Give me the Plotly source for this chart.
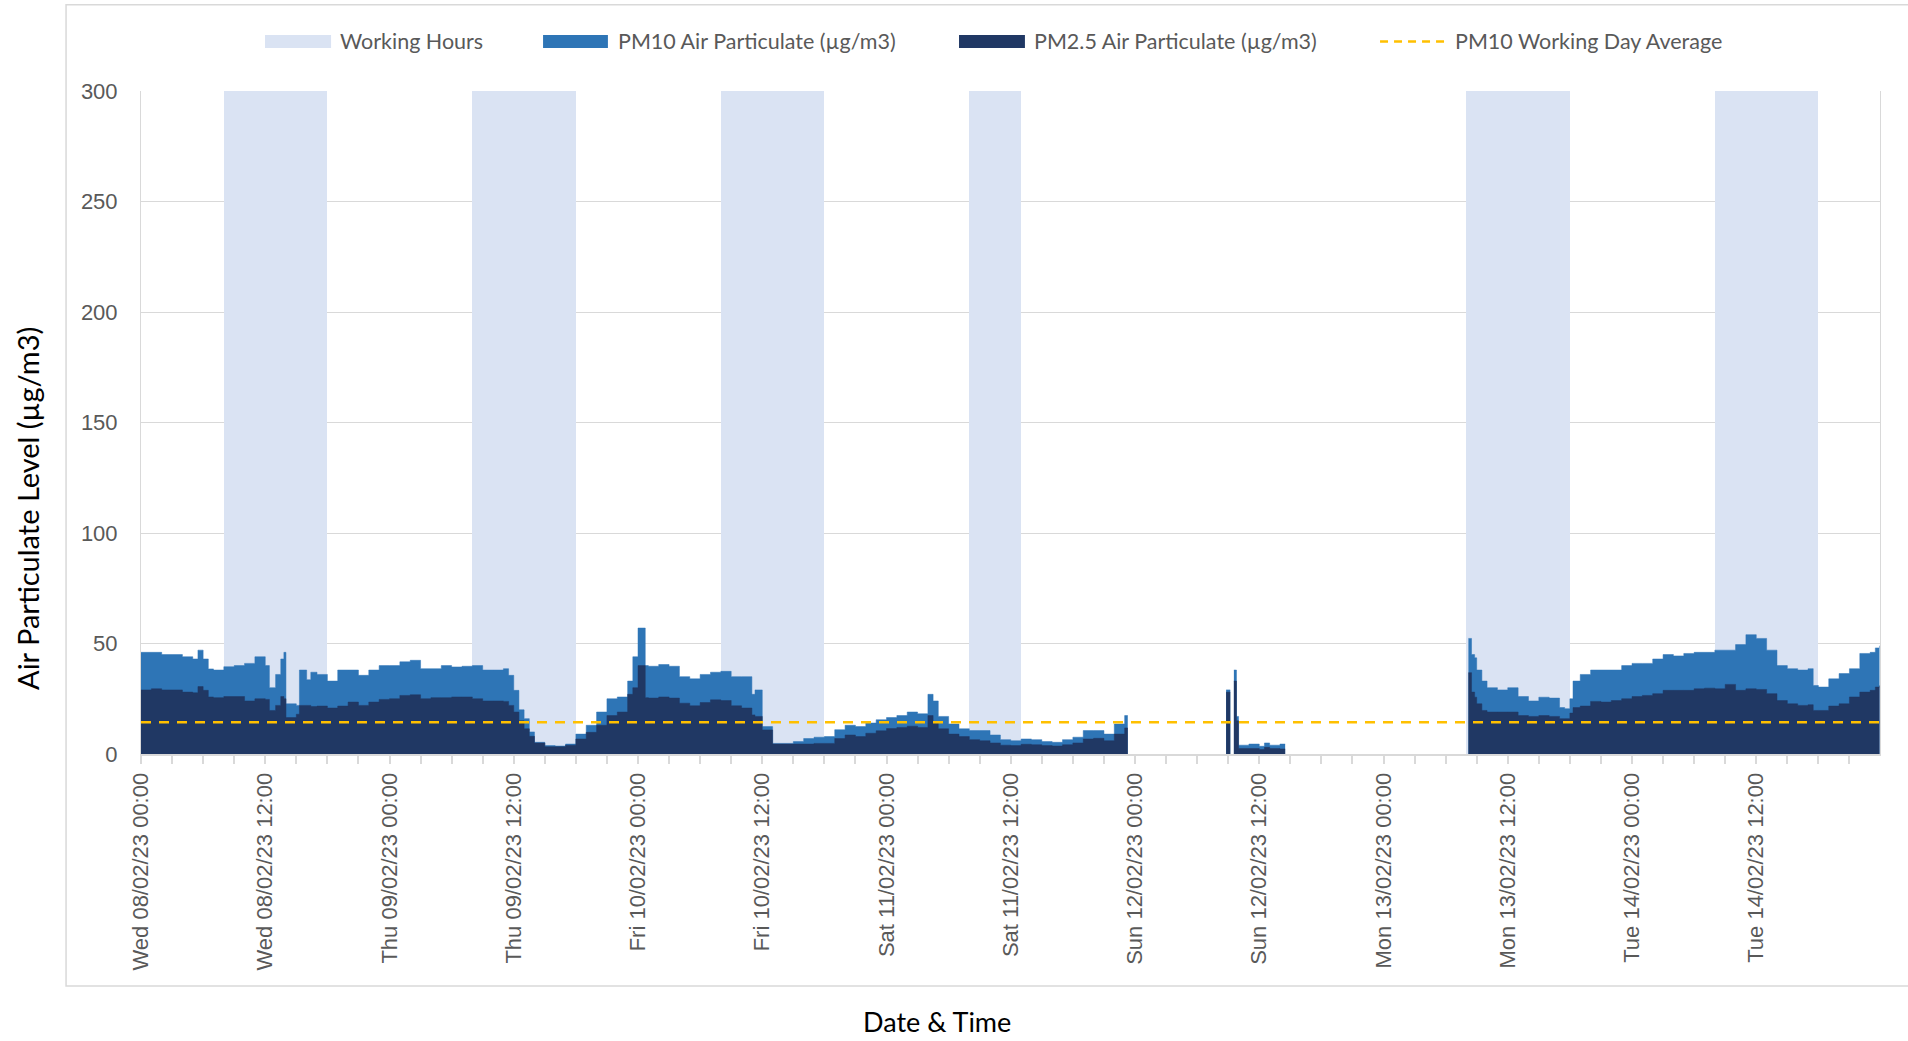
"""PM10 / PM2.5 air particulate levels over one week, with working hours shaded."""

from datetime import datetime, timedelta

import plotly.graph_objects as go

# ---------------------------------------------------------------------------
# Data (hours after Wed 08/02/23 00:00; None = no reading)
# ---------------------------------------------------------------------------

START = datetime(2023, 2, 8)

hours = [
    0, 1, 2, 3, 4, 5, 5.5, 6, 6.5, 7, 8, 9, 10, 11, 12, 12.4, 13, 13.5, 13.8,
    14, 15, 15.3, 16, 16.4, 17, 18, 19, 20, 21, 22, 23,
    24, 25, 26, 27, 28, 29, 30, 31, 32, 33, 34, 35, 35.5, 36, 36.5, 37, 37.5,
    38, 39, 40, 41, 42, 43, 44, 45, 46, 47, 47.5,
    48, 48.7, 49, 50, 51, 52, 53, 54, 55, 56, 57, 58, 59, 59.3, 60, 61, 62,
    63, 64, 65, 66, 67, 68, 69, 70, 71,
    72, 73, 74, 75, 76, 76.5, 77, 78, 79, 80, 81, 82, 83, 84, 85, 86, 87, 88,
    89, 90, 91, 92, 93, 94, 95, 95.3,
    100,
    104.8, 105.2, 105.4, 105.55, 105.8, 106.0, 107, 108, 108.5, 109, 110, 110.5,
    120,
    128.2, 128.5, 128.8, 129, 129.5, 130, 131, 132, 133, 134, 135, 136, 137,
    137.5, 138, 138.3, 139, 140, 141, 142, 143,
    144, 145, 146, 147, 148, 149, 150, 151, 152, 153, 154, 155, 156, 157, 158,
    159, 160, 161, 161.5, 162, 163, 164, 165, 166, 167, 167.5, 167.9,
]

pm10 = [
    46, 46, 45, 45, 44, 43, 47, 43, 38.5, 38, 39.5, 40, 41, 44, 40, 30, 36, 43, 46,
    22.7, 22, 38, 33.6, 37, 36, 33, 38, 38, 35.6, 38, 40,
    40, 41.7, 42.4, 38.6, 38.6, 40, 39.4, 39.7, 40, 38, 38, 38.6, 35.6, 28.8, 20, 16, 10,
    5.3, 3.8, 3.6, 4.5, 9, 13, 19, 25, 25.8, 33, 44,
    57, 40, 39.7, 40.5, 39.7, 35, 34, 36, 37, 37.4, 35, 35, 27, 29, 12.4, 4.8, 4.8,
    5.6, 7, 7.6, 7.9, 11, 13, 12.4, 14, 15.5,
    16.5, 17.4, 19, 18.2, 27, 24, 17, 13.6, 11.4, 10.6, 10.6, 8.6, 6.5, 6, 6.8, 6.5, 5.6, 5.3,
    6.5, 7.6, 10.6, 10.6, 9, 13.6, 17.4, 17.4,
    None,
    29, 29, None, 38, 17, 4, 4.5, 3.5, 5, 4, 4.5, 4.5,
    None,
    52.3, 45, 43.5, 38, 33, 30, 29, 30, 26, 24, 25.7, 25.3, 21,
    20.5, 25, 33, 36, 38, 38, 38, 40,
    41, 41, 43, 45, 44.4, 45.5, 46, 46, 47, 47, 49.5, 54, 52.3, 47, 40,
    38.6, 38, 38.6, 31, 30.3, 34, 36.4, 38.6, 45.5, 46, 48, 49,
]

pm25 = [
    29, 29.5, 29, 29, 28, 27.7, 30.5, 28.8, 25.8, 25.5, 26, 26, 24, 25, 24.7, 19.7, 22, 26, 25,
    16.5, 18, 22, 22, 21.5, 21.7, 20.8, 21.7, 23.5, 22, 23.5, 24.7,
    25, 26.5, 26.8, 25, 25.5, 25.5, 25.8, 25.8, 25, 24, 24, 23.8, 22, 19, 15, 11.4, 8,
    5, 3.3, 3.3, 4, 6.8, 9.8, 13, 17.4, 19, 27, 30,
    40, 25.5, 25.3, 25.8, 25.3, 23, 21.8, 23.3, 24.5, 24.2, 21.8, 20.8, 17.7, 17, 10.9, 4.5, 4.5,
    4.5, 4.5, 4.8, 4.8, 7, 8.6, 7.9, 9.4, 10.5,
    11.5, 12, 12.6, 12, 17.4, 14.5, 11.4, 9, 7.9, 6.5, 6, 5, 4, 3.8, 4.4, 4.2, 3.8, 3.6,
    4.2, 5, 6.8, 7.1, 6, 9, 11.8, 11.8,
    None,
    28, 28, None, 33, 15, 2.5, 2.5, 2, 3, 2.5, 2.3, 2.3,
    None,
    36.8, 28, 25.7, 22.7, 19.7, 19, 19, 19, 17.4, 17, 17.4, 17, 16,
    16, 18.5, 21, 21.7, 23.8, 23.5, 24.2, 25,
    26, 26.5, 27.3, 28.8, 28.8, 28.8, 29.5, 29.8, 29.5, 31.5, 28.8, 29.5, 29.2, 27.3, 24.2,
    22.7, 22, 22.3, 19.7, 19.7, 21.7, 22.7, 25.8, 28, 28.8, 30.3, 31,
]

# working hours: start / end hour offsets (Wed, Thu, Fri, Sat, Mon, Tue)
work_start = [8, 32, 56, 80, 128, 152]
work_end = [18, 42, 66, 85, 138, 162]
work_level = 300

pm10_working_avg = 14.4

# ---------------------------------------------------------------------------
# Style
# ---------------------------------------------------------------------------

C_WORK = "#DAE3F3"
C_PM10 = "#2E75B6"
C_PM25 = "#203864"
C_AVG = "#FFC000"
C_GRID = "#D9D9D9"
C_TEXT = "#595959"

TICK_FONT = dict(family="Liberation Sans, Arial, sans-serif", size=22, color=C_TEXT)
LABEL_FONT = "Lato, Carlito, Calibri, sans-serif"

HOUR_MS = 3600 * 1000

times = [START + timedelta(hours=h) for h in hours]


def runs(xs, ys):
    """Split a series into continuous runs at the missing (None) readings."""
    cur_x, cur_y = [], []
    for x, y in zip(xs, ys):
        if y is None:
            if cur_x:
                yield cur_x, cur_y
            cur_x, cur_y = [], []
        else:
            cur_x.append(x)
            cur_y.append(y)
    if cur_x:
        yield cur_x, cur_y


fig = go.Figure()

# working hours as full-height bars
fig.add_trace(go.Bar(
    x=[START + timedelta(hours=(s + e) / 2) for s, e in zip(work_start, work_end)],
    y=[work_level] * len(work_start),
    width=[(e - s) * HOUR_MS for s, e in zip(work_start, work_end)],
    marker=dict(color=C_WORK, line=dict(width=0)),
    name="Working Hours",
    hoverinfo="skip",
))

for series, color, name in [
    (pm10, C_PM10, "PM10 Air Particulate (µg/m3)"),
    (pm25, C_PM25, "PM2.5 Air Particulate (µg/m3)"),
]:
    for rx, ry in runs(times, series):
        fig.add_trace(go.Scatter(
            x=rx, y=ry,
            mode="lines", line=dict(shape="hv", width=0.5, color=color),
            fill="tozeroy", fillcolor=color,
            name=name, legendgroup=name,
        ))

fig.add_trace(go.Scatter(
    x=[START, START + timedelta(hours=168)],
    y=[pm10_working_avg, pm10_working_avg],
    mode="lines", line=dict(color=C_AVG, width=2.5, dash="10px,8px"),
    name="PM10 Working Day Average",
))

# ---------------------------------------------------------------------------
# Custom legend (wide Excel-style swatches)
# ---------------------------------------------------------------------------

legend_items = [
    ("Working Hours", C_WORK, "box", 0.0713, 0.1093, 0.1133),
    ("PM10 Air Particulate (µg/m3)", C_PM10, "box", 0.2312, 0.2685, 0.2731),
    ("PM2.5 Air Particulate (µg/m3)", C_PM25, "box", 0.4704, 0.5083, 0.5124),
    ("PM10 Working Day Average", C_AVG, "line", 0.7125, 0.7493, 0.7545),
]
LEG_Y = 1.0747
shapes = []
annotations = []
for label, color, kind, x0, x1, xt in legend_items:
    if kind == "box":
        shapes.append(dict(type="rect", xref="paper", yref="paper",
                           x0=x0, x1=x1, y0=LEG_Y - 0.0098, y1=LEG_Y + 0.0098,
                           fillcolor=color, line=dict(width=0)))
    else:
        shapes.append(dict(type="line", xref="paper", yref="paper",
                           x0=x0, x1=x1, y0=LEG_Y, y1=LEG_Y,
                           line=dict(color=color, width=2.5, dash="8px,6px")))
    annotations.append(dict(text=label, xref="paper", yref="paper", x=xt, y=LEG_Y,
                            xanchor="left", yanchor="middle", showarrow=False,
                            font=dict(family=LABEL_FONT, size=21.5, color=C_TEXT)))

# outer chart frame
shapes.append(dict(type="rect", xref="paper", yref="paper",
                   x0=-0.0431, x1=1.06, y0=-0.350, y1=1.130,
                   line=dict(color=C_GRID, width=1.5), fillcolor="rgba(0,0,0,0)"))

# axis titles
annotations.append(dict(text="Air Particulate Level (µg/m3)", xref="paper", yref="paper",
                        x=-0.0656, y=0.371, textangle=-90, showarrow=False,
                        xanchor="center", yanchor="middle",
                        font=dict(family=LABEL_FONT, size=29, color="#000000")))
annotations.append(dict(text="Date & Time", xref="paper", yref="paper",
                        x=0.4577, y=-0.404, showarrow=False,
                        xanchor="center", yanchor="middle",
                        font=dict(family=LABEL_FONT, size=27, color="#000000")))

fig.update_layout(
    width=1908, height=1041,
    margin=dict(l=141, r=28, t=91, b=287),
    paper_bgcolor="white",
    plot_bgcolor="white",
    showlegend=False,
    bargap=0,
    shapes=shapes,
    annotations=annotations,
    xaxis=dict(
        type="date",
        range=[START, START + timedelta(hours=167.95)],
        tick0=START,
        dtick=12 * HOUR_MS,
        tickformat="%a %d/%m/%y %H:%M",
        tickangle=-90,
        tickfont=TICK_FONT,
        ticks="outside", ticklen=8, tickcolor=C_GRID, tickwidth=1.5,
        minor=dict(dtick=3 * HOUR_MS, ticks="outside", ticklen=8,
                   tickcolor=C_GRID, tickwidth=1.5, showgrid=False),
        showgrid=False,
        showline=True, linecolor=C_GRID, linewidth=2,
        zeroline=False,
    ),
    yaxis=dict(
        range=[0, 300],
        dtick=50,
        tickfont=TICK_FONT,
        showgrid=True, gridcolor=C_GRID, gridwidth=1,
        showline=True, linecolor=C_GRID, linewidth=1, mirror=True,
        zeroline=False,
        ticks="",
        ticklabelstandoff=18,
    ),
)

# drop the default 8px page margin so the figure fills the window exactly
fig.write_html(
    "out.html",
    config={"displayModeBar": False},
    post_script="document.body.style.margin = '0';",
)
